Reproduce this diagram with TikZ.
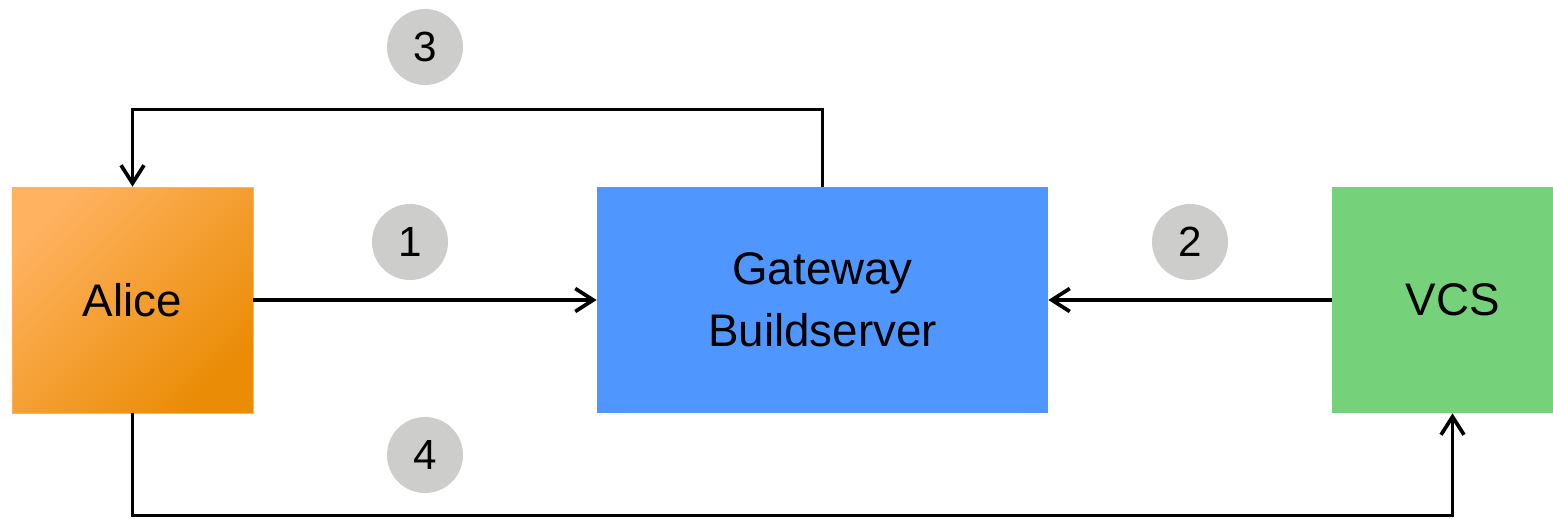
\documentclass[tikz,border=0pt]{standalone}
\usepackage{fontspec}
\setmainfont{Liberation Sans}
\usepackage{tikz}
\usetikzlibrary{arrows.meta, calc, positioning}

\definecolor{gwblue}{RGB}{79,151,255}
\definecolor{vcsgreen}{RGB}{118,210,122}
\definecolor{alicelight}{RGB}{255,178,95}
\definecolor{alicedark}{RGB}{234,140,5}
\definecolor{stepgray}{RGB}{205,206,203}

\tikzset{
  block/.style={minimum height=4.52cm, inner sep=0pt, align=center, font=\fontsize{26}{35}\selectfont},
  stepnum/.style={circle, fill=stepgray, minimum size=1.52cm, inner sep=0pt, font=\fontsize{24}{24}\selectfont},
  conn/.style={line width=2.1pt, -{Straight Barb[length=3.6mm, width=4.6mm, line width=2.1pt]}}
}

\begin{document}
\begin{tikzpicture}
% Page size
\useasboundingbox (0,0) rectangle (31.06,-10.36);

% Boxes
\node[block, minimum width=4.82cm, draw=alicelight, line width=0.4pt, top color=alicelight, bottom color=alicedark, shading angle=45] (Alice) at (2.65,-6.0) {Alice};
\node[block, minimum width=9.02cm, fill=gwblue] (Gateway) at (16.45,-6.0) {Gateway\\Buildserver};
\node[block, minimum width=4.82cm, fill=vcsgreen] (VCS) at (29.05,-6.0) {VCS};

% Step numbers
\node[stepnum] (s1) at (8.2,-4.84) {1};
\node[stepnum] (s2) at (23.8,-4.84) {2};
\node[stepnum] (s3) at (8.5,-0.94) {3};
\node[stepnum] (s4) at (8.5,-9.1) {4};

% Connectors
\draw[conn] (Alice.east) -- (Gateway.west);
\draw[conn] (VCS.west) -- (Gateway.east);
\draw[conn] (Gateway.north) -- ++(0,1.54) -| (Alice.north);
\draw[conn] (Alice.south) -- ++(0,-2.04) -| (VCS.south);

\end{tikzpicture}
\end{document}
